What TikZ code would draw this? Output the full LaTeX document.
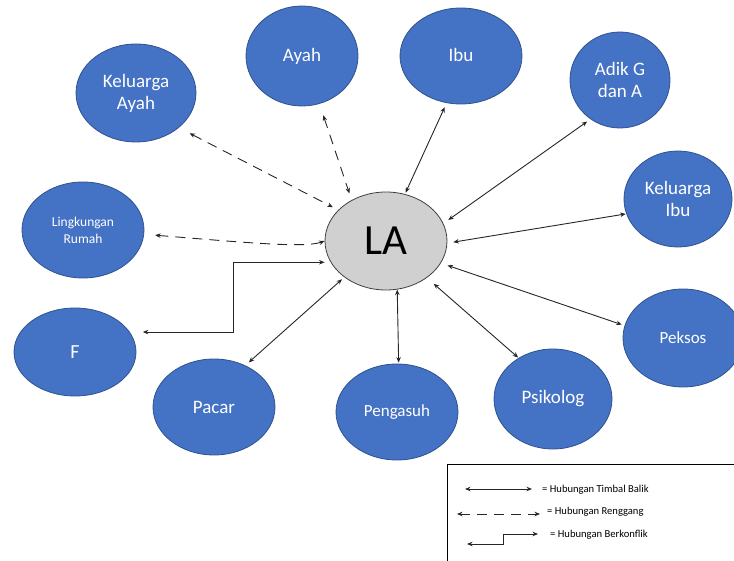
\documentclass[tikz,border=0pt]{standalone}
\usepackage{fontspec}
\setmainfont{Carlito}
\usetikzlibrary{shapes.geometric,arrows.meta}
\definecolor{nodeblue}{HTML}{4472C4}
\definecolor{nodeborder}{HTML}{2F528F}
\definecolor{lagray}{HTML}{D0D0D0}
\definecolor{lineblk}{HTML}{262626}
\tikzset{
  bnode/.style={ellipse, draw=nodeborder, line width=0.8pt, fill=nodeblue, text=white, inner sep=0pt, align=center, font=\fontsize{19}{22}\selectfont},
  lanode/.style={ellipse, draw=black!75, line width=0.8pt, fill=lagray, text=black, inner sep=0pt, font=\fontsize{43}{46}\selectfont},
  rel/.style={lineblk, line width=0.9pt, {Stealth[length=5.5pt,width=4.5pt]}-{Stealth[length=5.5pt,width=4.5pt]}},
  weak/.style={rel, dash pattern=on 10pt off 7pt},
  legtext/.style={anchor=west, inner sep=0pt, font=\fontsize{10.6}{12}\selectfont}
}
\begin{document}
\begin{tikzpicture}[x=1pt,y=-1pt]
\useasboundingbox (0,0) rectangle (734,561);
% nodes
\node[lanode, minimum width=122pt, minimum height=98pt] (la) at (386,241) {LA};
\node[bnode, minimum width=120pt, minimum height=98pt] (ka) at (136,93) {Keluarga\\Ayah};
\node[bnode, minimum width=112pt, minimum height=100pt] (ayah) at (302,56) {Ayah};
\node[bnode, minimum width=122pt, minimum height=96pt] (ibu) at (461,56) {\raisebox{3pt}{Ibu}};
\node[bnode, minimum width=100pt, minimum height=96pt] (adik) at (620,80) {Adik G\\dan A};
\node[bnode, minimum width=108pt, minimum height=96pt] (ki) at (678,199) {Keluarga\\Ibu};
\node[bnode, minimum width=122pt, minimum height=96pt, font=\fontsize{13.5}{17}\selectfont] (lr) at (83,230) {Lingkungan\\Rumah};
\node[bnode, minimum width=122pt, minimum height=88pt, font=\fontsize{20}{24}\selectfont] (f) at (75,352) {F};
\node[bnode, minimum width=122pt, minimum height=96pt] (pacar) at (214,407) {Pacar};
\node[bnode, minimum width=122pt, minimum height=96pt, font=\fontsize{17}{20}\selectfont] (peng) at (397,412) {Pengasuh};
\node[bnode, minimum width=118pt, minimum height=100pt] (psi) at (553,399) {Psikolog};
\node[bnode, minimum width=120pt, minimum height=98pt, font=\fontsize{17}{20}\selectfont] (pek) at (683,338) {Peksos};
% connectors
\draw[weak, shorten <=12pt, shorten >=6pt] (ka.-39) -- (la.147);
\draw[weak, shorten <=12pt, shorten >=7pt] (ayah.-70) -- (la.130);
\draw[rel, shorten <=4.5pt, shorten >=1.5pt] (ibu.253) -- (la.68);
\draw[rel, shorten <=4pt, shorten >=6pt] (adik.233) -- (la.17);
\draw[rel, shorten <=0.5pt, shorten >=6pt] (ki.196) -- (la.-2);
\draw[weak, shorten <=11pt] (lr.-4) .. controls (250,243) and (305,248) .. (la.180);
\coordinate (fbend) at (233,0);
\draw[rel, shorten <=13pt, shorten >=6pt] (f.20) -| (fbend |- la.201) -- (la.201);
\draw[rel, shorten <=4.5pt, shorten >=3pt] (pacar.53) -- (la.221);
\draw[rel, shorten <=1pt] (peng.88) -- (la.-77);
\draw[rel, shorten <=0.5pt, shorten >=9pt] (psi.130) -- (la.-42);
\draw[rel, shorten <=3pt, shorten >=7pt] (pek.168) -- (la.-22);
% legend
\draw[black, line width=0.8pt] (734,464) -- (447,464) -- (447,561);
\node[legtext] (t1) at (542,490) {= Hubungan Timbal Balik};
\node[legtext] (t2) at (547,512) {= Hubungan Renggang};
\node[legtext] (t3) at (550,535) {= Hubungan Berkonflik};
\coordinate (l1a) at (465,489);
\coordinate (l1b) at (532,489);
\coordinate (l2a) at (457,514);
\coordinate (l2b) at (540,514);
\coordinate (l3a) at (467,544);
\coordinate (l3m) at (503,544);
\coordinate (l3n) at (503,534);
\coordinate (l3b) at (538,534);
\draw[rel] (l1a) -- (l1b);
\draw[weak] (l2a) -- (l2b);
\draw[rel] (l3a) -- (l3m) -- (l3n) -- (l3b);
\end{tikzpicture}
\end{document}
